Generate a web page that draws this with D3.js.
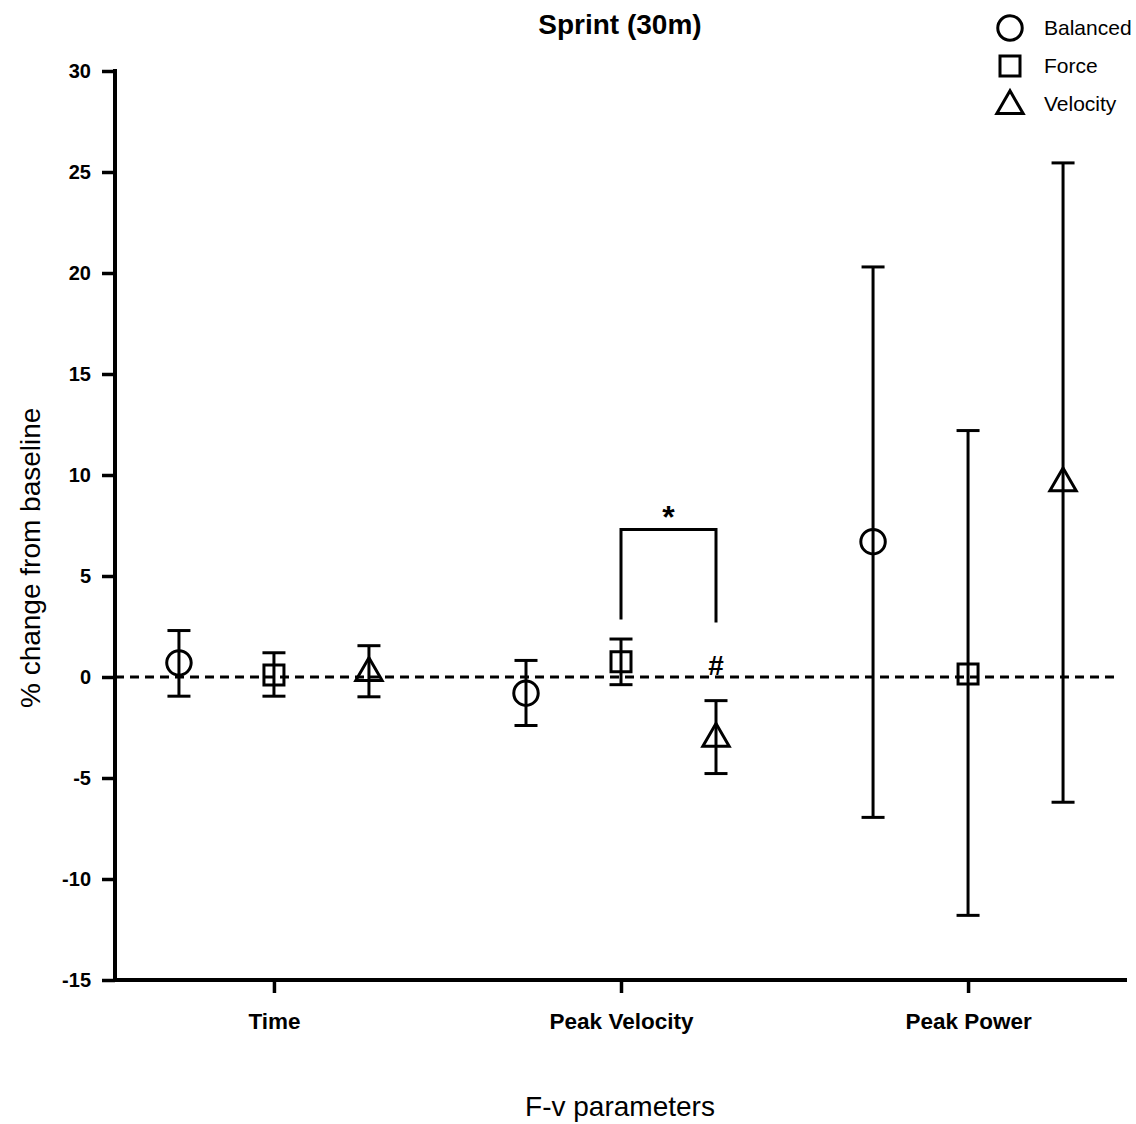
<!DOCTYPE html>
<html>
<head>
<meta charset="utf-8">
<script src="https://cdn.jsdelivr.net/npm/d3@7"></script>
<style>
  html, body { margin: 0; padding: 0; background: #fff; }
  svg { display: block; font-family: Arial, "Liberation Sans", sans-serif; }
</style>
</head>
<body>
<svg id="chart" width="1136" height="1124"></svg>
<script>
// F-v parameters measured in the 30 m sprint
const categories = ["Time", "Peak Velocity", "Peak Power"];
const groups = ["Balanced", "Force", "Velocity"];

// Mean % change from baseline, one array per training group (order follows categories)
const balancedMean = [0.7, -0.8, 6.7];
const forceMean    = [0.1, 0.75, 0.15];
const velocityMean = [0.2, -3.05, 9.6];

// Upper / lower ends of the error bars
const balancedHigh = [2.3, 0.82, 20.3];
const balancedLow  = [-0.95, -2.4, -6.95];
const forceHigh    = [1.2, 1.88, 12.2];
const forceLow     = [-0.95, -0.38, -11.8];
const velocityHigh = [1.55, -1.17, 25.45];
const velocityLow  = [-0.98, -4.78, -6.2];

const yTicks = [-15, -10, -5, 0, 5, 10, 15, 20, 25, 30];

const series = [
  { name: "Balanced", symbol: d3.symbolCircle, mean: balancedMean, hi: balancedHigh, lo: balancedLow },
  { name: "Force", symbol: d3.symbolSquare, mean: forceMean, hi: forceHigh, lo: forceLow },
  { name: "Velocity", symbol: d3.symbolTriangle, mean: velocityMean, hi: velocityHigh, lo: velocityLow }
];

const svg = d3.select("#chart");
const plotLeft = 115, plotRight = 1127, plotTop = 71, plotBottom = 980;

const y = d3.scaleLinear().domain([-15, 30]).range([plotBottom, plotTop]);
const x = d3.scalePoint().domain(categories).range([plotLeft, plotRight]).padding(0.458);
const offset = d3.scalePoint().domain(groups).range([-95, 95]);

const symbolSize = { Balanced: 470, Force: 400, Velocity: 300 };

// zero reference line
svg.append("line")
  .attr("x1", plotLeft).attr("x2", 1118)
  .attr("y1", y(0)).attr("y2", y(0))
  .attr("stroke", "#000").attr("stroke-width", 3)
  .attr("stroke-dasharray", "9,6");

// y axis (plain hyphen for negatives)
const yAxis = svg.append("g")
  .attr("transform", `translate(${plotLeft},0)`)
  .call(d3.axisLeft(y).tickValues(yTicks).tickFormat(d => String(d))
    .tickSize(13).tickPadding(11).tickSizeOuter(0));
yAxis.select(".domain").attr("stroke-width", 4).attr("d", `M0,${plotTop - 2}V${plotBottom + 2}`);
yAxis.selectAll(".tick line").attr("stroke-width", 3.5);
yAxis.selectAll(".tick text")
  .attr("font-size", 20).attr("font-weight", "bold").attr("fill", "#000")
  .attr("font-family", "Arial, 'Liberation Sans', sans-serif");

// x axis
const xAxis = svg.append("g")
  .attr("transform", `translate(0,${plotBottom})`)
  .call(d3.axisBottom(x).tickSize(13).tickPadding(20).tickSizeOuter(0));
xAxis.select(".domain").attr("stroke-width", 4).attr("d", `M${plotLeft - 2},0H${plotRight}`);
xAxis.selectAll(".tick line").attr("stroke-width", 3.5);
xAxis.selectAll(".tick text")
  .attr("font-size", 22.5).attr("font-weight", "bold").attr("fill", "#000")
  .attr("font-family", "Arial, 'Liberation Sans', sans-serif");

// error bars and markers
const capHalf = 11.5;
series.forEach(s => {
  const g = svg.append("g");
  categories.forEach((c, i) => {
    const cx = x(c) + offset(s.name);
    g.append("line")
      .attr("x1", cx).attr("x2", cx)
      .attr("y1", y(s.hi[i])).attr("y2", y(s.lo[i]))
      .attr("stroke", "#000").attr("stroke-width", 3);
    [s.hi[i], s.lo[i]].forEach(v => {
      g.append("line")
        .attr("x1", cx - capHalf).attr("x2", cx + capHalf)
        .attr("y1", y(v)).attr("y2", y(v))
        .attr("stroke", "#000").attr("stroke-width", 3);
    });
    g.append("path")
      .attr("d", d3.symbol().type(s.symbol).size(symbolSize[s.name])())
      .attr("transform", `translate(${cx},${y(s.mean[i])})`)
      .attr("fill", "none").attr("stroke", "#000").attr("stroke-width", 3);
  });
});

// significance bracket between Force and Velocity for Peak Velocity
const bx1 = x("Peak Velocity") + offset("Force");
const bx2 = x("Peak Velocity") + offset("Velocity");
const bTop = y(7.3);
svg.append("path")
  .attr("d", `M${bx1},${y(2.85)}V${bTop}H${bx2}V${y(2.7)}`)
  .attr("fill", "none").attr("stroke", "#000").attr("stroke-width", 3);
svg.append("text")
  .attr("x", (bx1 + bx2) / 2).attr("y", bTop - 2)
  .attr("text-anchor", "middle").attr("font-size", 32).attr("font-weight", "bold")
  .text("*");
svg.append("text")
  .attr("x", bx2).attr("y", y(0) - 2)
  .attr("text-anchor", "middle").attr("font-size", 28).attr("font-weight", "bold")
  .text("#");

// titles
svg.append("text")
  .attr("x", 620).attr("y", 34)
  .attr("text-anchor", "middle").attr("font-size", 28).attr("font-weight", "bold")
  .text("Sprint (30m)");
svg.append("text")
  .attr("x", 620).attr("y", 1116)
  .attr("text-anchor", "middle").attr("font-size", 28)
  .text("F-v parameters");
svg.append("text")
  .attr("transform", `translate(40,${y(5.9)}) rotate(-90)`)
  .attr("text-anchor", "middle").attr("font-size", 28)
  .text("% change from baseline");

// legend
const legend = svg.append("g");
series.forEach((s, i) => {
  const ly = 28 + i * 38;
  legend.append("path")
    .attr("d", d3.symbol().type(s.symbol).size(symbolSize[s.name])())
    .attr("transform", `translate(1010,${ly + (s.name === "Velocity" ? 2 : 0)})`)
    .attr("fill", "none").attr("stroke", "#000").attr("stroke-width", 3);
  legend.append("text")
    .attr("x", 1044).attr("y", ly + 7)
    .attr("font-size", 21)
    .text(s.name);
});
</script>
</body>
</html>
